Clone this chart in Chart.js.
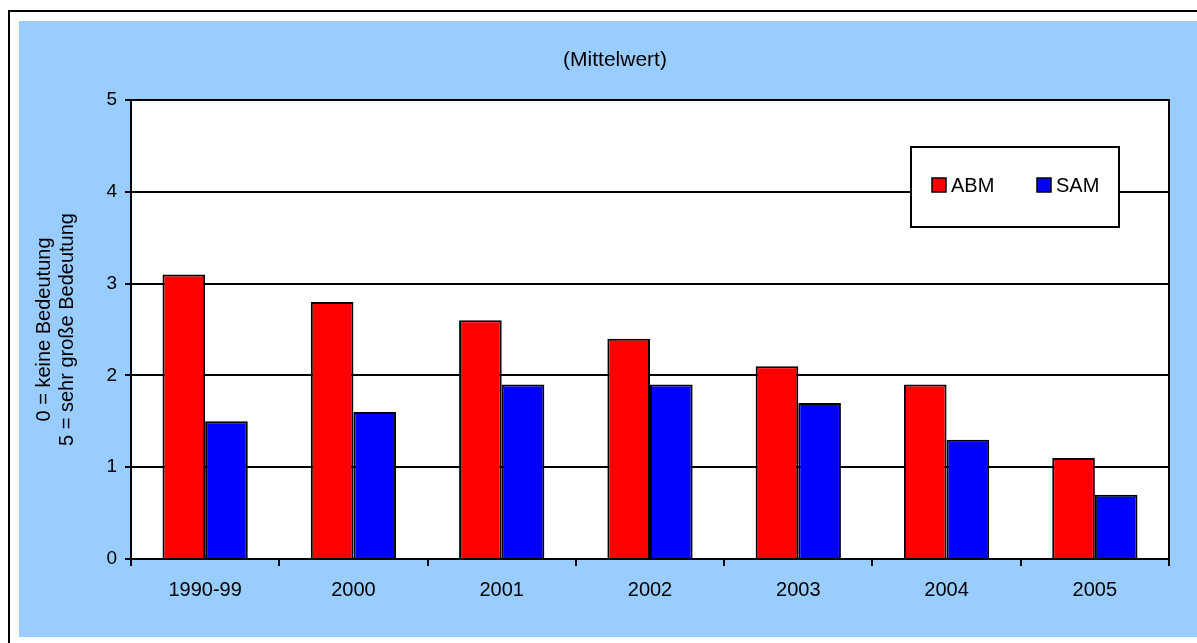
<!DOCTYPE html>
<html>
<head>
<meta charset="utf-8">
<script src="https://cdn.jsdelivr.net/npm/chart.js@4.4.0/dist/chart.umd.min.js"></script>
<style>
    body { margin: 0; background: #fff; }
    #wrap { width: 1197px; height: 643px; }
</style>
</head>
<body>
<div id="wrap"><canvas id="bedeutung" width="1197" height="643"></canvas></div>
<script>
    const categories = ['1990-99', '2000', '2001', '2002', '2003', '2004', '2005'];
    const abmValues = [3.1, 2.8, 2.6, 2.4, 2.1, 1.9, 1.1];
    const samValues = [1.5, 1.6, 1.9, 1.9, 1.7, 1.3, 0.7];
    const seriesLabels = ['ABM', 'SAM'];
    const chartTitle = '(Mittelwert)';
    const yTitle = ['0 = keine Bedeutung', '5 = sehr große Bedeutung'];

    const fontFamily = '"Liberation Sans", Arial, sans-serif';

    // blue frame behind everything, white plot area, title and legend box
    const frame = {
        id: 'frame',
        beforeDraw: function (chart) {
            const ctx = chart.ctx;
            const a = chart.chartArea;
            ctx.save();
            ctx.fillStyle = '#fff';
            ctx.fillRect(0, 0, chart.width, chart.height);
            ctx.strokeStyle = '#000';
            ctx.lineWidth = 2;
            ctx.strokeRect(9, 11, chart.width + 20, chart.height + 20);
            ctx.fillStyle = '#99CCFF';
            ctx.fillRect(19, 21, chart.width - 19, 616);
            ctx.fillStyle = '#fff';
            ctx.fillRect(a.left, a.top, a.right - a.left, a.bottom - a.top);

            // title sits a bit right of centre, like the original
            ctx.fillStyle = '#000';
            ctx.font = '21px ' + fontFamily;
            ctx.textAlign = 'center';
            ctx.textBaseline = 'middle';
            ctx.fillText(chartTitle, 615, 60);
            ctx.restore();
        },
        afterDraw: function (chart) {
            const ctx = chart.ctx;
            const a = chart.chartArea;
            ctx.save();
            ctx.strokeStyle = '#000';
            ctx.lineWidth = 2;
            ctx.strokeRect(a.left, a.top, a.right - a.left, a.bottom - a.top);

            // legend box inside the plot
            const bx = 911, by = 147, bw = 208, bh = 80;
            ctx.fillStyle = '#fff';
            ctx.fillRect(bx, by, bw, bh);
            ctx.strokeRect(bx, by, bw, bh);
            const xs = [932, 1037];
            ctx.font = '20px ' + fontFamily;
            ctx.textBaseline = 'middle';
            chart.data.datasets.forEach(function (ds, i) {
                ctx.fillStyle = ds.backgroundColor;
                ctx.fillRect(xs[i], 178, 14, 14);
                ctx.lineWidth = 1.5;
                ctx.strokeRect(xs[i], 178, 14, 14);
                ctx.fillStyle = '#000';
                ctx.fillText(ds.label, xs[i] + 19, 186);
            });
            ctx.restore();
        }
    };

    new Chart(document.getElementById('bedeutung'), {
        type: 'bar',
        data: {
            labels: categories,
            datasets: [{
                label: seriesLabels[0],
                data: abmValues,
                backgroundColor: '#FF0000',
                borderColor: '#000',
                borderWidth: 2,
                categoryPercentage: 0.575,
                barPercentage: 1
            }, {
                label: seriesLabels[1],
                data: samValues,
                backgroundColor: '#0000FF',
                borderColor: '#000',
                borderWidth: 2,
                categoryPercentage: 0.575,
                barPercentage: 1
            }]
        },
        options: {
            responsive: false,
            animation: false,
            layout: {
                padding: { left: 19, top: 100, right: 28, bottom: 6 }
            },
            plugins: {
                legend: { display: false },
                tooltip: { enabled: false },
                title: { display: false }
            },
            scales: {
                x: {
                    afterFit: function (s) { s.height = 78; },
                    grid: {
                        drawOnChartArea: false,
                        color: '#000',
                        lineWidth: 2,
                        tickLength: 7
                    },
                    border: { color: '#000', width: 2 },
                    ticks: {
                        color: '#000',
                        padding: 12,
                        font: { family: fontFamily, size: 20 }
                    }
                },
                y: {
                    min: 0,
                    max: 5,
                    afterFit: function (s) { s.width = 112; },
                    grid: {
                        color: '#000',
                        lineWidth: 2,
                        tickLength: 6
                    },
                    border: { color: '#000', width: 2 },
                    ticks: {
                        stepSize: 1,
                        color: '#000',
                        padding: 8,
                        font: { family: fontFamily, size: 19 }
                    },
                    title: {
                        display: true,
                        text: yTitle,
                        color: '#000',
                        font: { family: fontFamily, size: 20, lineHeight: 1.15 },
                        padding: { top: 14, bottom: 0 }
                    }
                }
            }
        },
        plugins: [frame]
    });
</script>
</body>
</html>
